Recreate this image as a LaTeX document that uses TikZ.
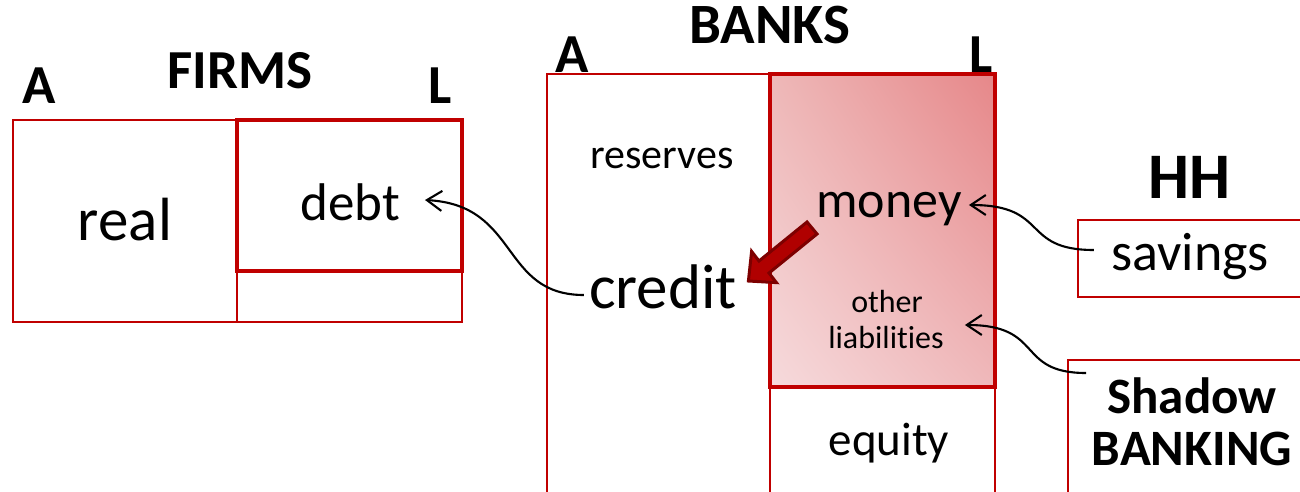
\documentclass[tikz,border=0pt]{standalone}
\usepackage{fontspec}
\setmainfont{Carlito}[Ligatures={NoCommon}]
\usetikzlibrary{arrows.meta,calc,shadings}
\definecolor{boxred}{RGB}{192,0,0}
\definecolor{arrowfill}{RGB}{176,0,0}
\definecolor{arrowedge}{RGB}{125,0,0}
\definecolor{shTR}{RGB}{230,135,137}
\definecolor{shTL}{RGB}{238,184,184}
\definecolor{shBR}{RGB}{239,184,186}
\definecolor{shBL}{RGB}{246,218,220}
\newcommand{\fsz}[1]{\fontsize{#1}{#1}\selectfont}
\begin{document}
\begin{tikzpicture}[x=1pt,y=-1pt,
  thinbox/.style={draw=boxred,line width=2pt},
  thickbox/.style={draw=boxred,line width=3.5pt},
  lbl/.style={inner sep=0pt,anchor=base,text=black},
  link/.style={draw=black,line width=2.1pt,-{Straight Barb[length=15pt,width=20pt]}}]
\clip (0,0) rectangle (1300,491);
\fill[white] (0,0) rectangle (1300,491);

% FIRMS balance sheet
\draw[thinbox] (13,120) rectangle (462,322);
\draw[thinbox] (237,120) -- (237,322);
\draw[thickbox] (237,120) rectangle (462,271);

% BANKS balance sheet
\shade[upper left=shTL,upper right=shTR,lower left=shBL,lower right=shBR] (770,74) rectangle (995,387);
\draw[thinbox] (547,74) rectangle (995,500);
\draw[thinbox] (770,74) -- (770,500);
\draw[thickbox] (770,74) rectangle (995,387);

% HH / shadow boxes
\draw[draw=boxred,line width=2.5pt] (1078,220) rectangle (1320,297);
\draw[draw=boxred,line width=1.5pt] (1068,360) rectangle (1320,520);

% titles
\node[lbl,font=\fsz{55}\bfseries] (firmsT) at (240,88) {FIRMS};
\node[lbl,font=\fsz{55}\bfseries] (firmsA) at (39,103) {A};
\node[lbl,font=\fsz{55}\bfseries] (firmsL) at (440,103) {L};
\node[lbl,font=\fsz{57}\bfseries] (banksT) at (770,43) {BANKS};
\node[lbl,font=\fsz{55}\bfseries] (banksA) at (572,72) {A};
\node[lbl,font=\fsz{55}\bfseries] (banksL) at (981,72) {L};
\node[lbl,font=\fsz{65}\bfseries] (hhT) at (1189,198) {HH};

% texts
\node[lbl,font=\fsz{61}] (real) at (125,240) {real};
\node[lbl,font=\fsz{53}] (debt) at (350,220) {debt};
\node[lbl,font=\fsz{42}] (reserves) at (662,168) {reserves};
\node[lbl,font=\fsz{63}] (credit) at (663,308) {credit};
\node[lbl,font=\fsz{52}] (money) at (889,217) {money};
\node[lbl,font=\fsz{32}] (other) at (887,312) {other};
\node[lbl,font=\fsz{32}] (liab) at (886,348) {liabilities};
\node[lbl,font=\fsz{47}] (equity) at (889,455) {equity};
\node[lbl,font=\fsz{54}] (savings) at (1190,270) {savings};
\node[lbl,font=\fsz{51}\bfseries] (shadow) at (1192,413) {Shadow};
\node[lbl,font=\fsz{51}\bfseries] (banking) at (1192,465) {BANKING};

% connectors
\draw[link] ([shift={(-5,-13)}]credit.base west) .. controls (500,295) and (520,205) .. ([shift={(25,-20)}]debt.base east);
\draw[link] ([shift={(-17,-20)}]savings.base west) .. controls (1020,250) and (1050,205) .. ([shift={(7,-12)}]money.base east);
\draw[link] ([shift={(-21,-40)}]shadow.base west) .. controls (1015,373) and (1045,325) .. ([shift={(21,-23)}]liab.base east);

% block arrow money -> credit
\draw[fill=arrowfill,draw=arrowedge,line width=3pt,line join=miter]
  (807,222) -- (759,261) -- (751.6,251.4) -- (748.4,281) -- (776.4,282.6) -- (769,273) -- (817,234) -- cycle;
\end{tikzpicture}
\end{document}
